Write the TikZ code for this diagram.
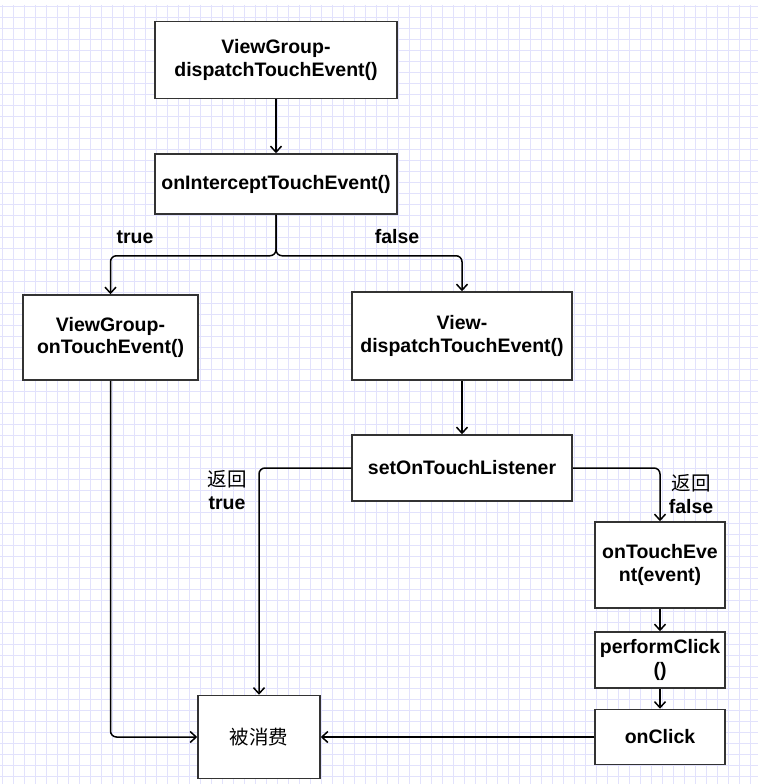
\documentclass[tikz,border=0pt]{standalone}
\usepackage{fontspec}
\setmainfont{Liberation Sans}
\newfontfamily\cjk{Noto Sans CJK SC}
\usetikzlibrary{calc, arrows, arrows.meta, positioning}
\definecolor{gridc}{RGB}{226,226,252}
\tikzstyle{blk}=[draw=black!80, line width=1.5pt, fill=white, align=center, inner sep=1pt, font=\fontsize{19.5}{22.5}\selectfont\bfseries]
\tikzstyle{lbl}=[align=center, inner sep=0pt, font=\fontsize{19.5}{23}\selectfont\bfseries]
\tikzstyle{line}=[->, line width=1.5pt, rounded corners=6pt]

\begin{document}
\begin{tikzpicture}[x=1pt,y=-1pt,>={Straight Barb[length=6pt,width=11pt]},node distance=124pt]
      \fill[white] (0,0) rectangle (758,784);
      \useasboundingbox (0,0) rectangle (758,784);
      % background grid
      \foreach \i in {0,...,68} \draw[gridc, line width=0.9pt] (\i*11+2,5) -- (\i*11+2,784);
      \foreach \j in {0,...,70} \draw[gridc, line width=0.9pt] (0,\j*11+6) -- (758,\j*11+6);

      \node [blk, minimum width=242pt, minimum height=77pt] (vgdispatch) at (276,60) {ViewGroup-\\dispatchTouchEvent()};
      \node [blk, minimum width=242pt, minimum height=60pt] (intercept) [below of=vgdispatch] {onInterceptTouchEvent()};
      \node [blk, minimum width=175pt, minimum height=85pt] (vgtouch) at (110.5,337.5) {ViewGroup-\\onTouchEvent()};
      \node [blk, minimum width=220pt, minimum height=88pt] (vdispatch) at (462,336) {View-\\dispatchTouchEvent()};
      \node [blk, minimum width=220pt, minimum height=66pt] (listener) [below of=vdispatch, node distance=132pt] {setOnTouchListener};
      \node [blk, minimum width=130pt, minimum height=86pt] (touchevent) at (660,565) {onTouchEve\\nt(event)};
      \node [blk, minimum width=130pt, minimum height=56pt] (perform) [below of=touchevent, node distance=95pt] {performClick\\()};
      \node [blk, minimum width=130pt, minimum height=55pt] (click) [below of=perform, node distance=77pt] {onClick};
      \node [blk, minimum width=122pt, minimum height=83pt, font=\cjk\fontsize{19.5}{22}\selectfont] (consumed) at (259,737) {被消费};

      \node [lbl] (ltrue) at (135,237) {true};
      \node [lbl] (lfalse) at (397,237) {false};
      \node [lbl] (rettrue) at (227,490) {{\cjk\mdseries\fontsize{19.5}{23}\selectfont 返回}\\true};
      \node [lbl] (retfalse) at (691,494) {{\cjk\mdseries\fontsize{19.5}{23}\selectfont 返回}\\false};

      \draw[line] (vgdispatch) -- (intercept);
      \draw[line] (intercept.south) -- ++(0,41) -| (vgtouch.north);
      \draw[line] (intercept.south) -- ++(0,41) -| (vdispatch.north);
      \draw[line] (vdispatch) -- (listener);
      \draw[line] (listener.west) -| (consumed.north);
      \draw[line] (listener.east) -| (touchevent.north);
      \draw[line] (touchevent) -- (perform);
      \draw[line] (perform) -- (click);
      \draw[line] (click) -- (consumed);
      \draw[line] (vgtouch.south) |- (consumed.west);
\end{tikzpicture}
\end{document}
